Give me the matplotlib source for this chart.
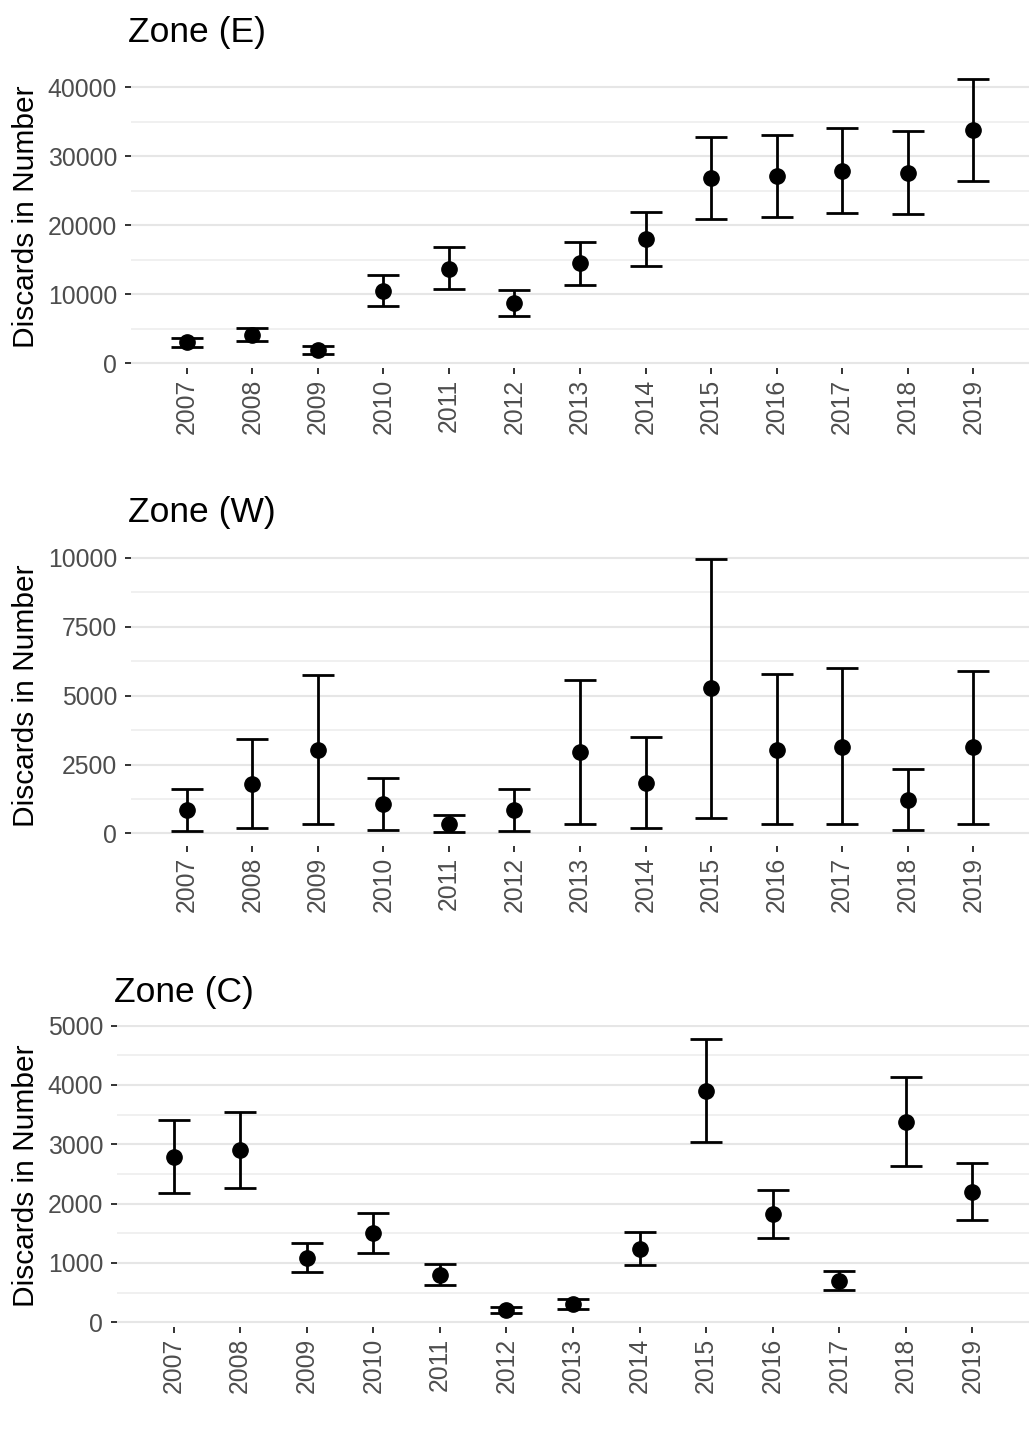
import matplotlib
matplotlib.use('Agg')
import matplotlib.pyplot as plt
from matplotlib.ticker import MultipleLocator

plt.rcParams['font.family'] = ['Liberation Sans', 'DejaVu Sans']

years = ['2007', '2008', '2009', '2010', '2011', '2012', '2013',
         '2014', '2015', '2016', '2017', '2018', '2019']

# Zone (E)
east_mean = [3000, 4060, 1880, 10400, 13700, 8740, 14450, 17970, 26800, 27100, 27900, 27600, 33800]
east_low = [2360, 3200, 1300, 8260, 10800, 6860, 11300, 14100, 20900, 21200, 21800, 21600, 26400]
east_high = [3720, 5100, 2560, 12750, 16800, 10600, 17600, 21900, 32700, 33100, 34100, 33700, 41200]

# Zone (W)
west_mean = [850, 1790, 3020, 1050, 360, 850, 2940, 1820, 5260, 3030, 3140, 1220, 3120]
west_low = [100, 200, 330, 120, 40, 100, 330, 200, 570, 350, 350, 130, 350]
west_high = [1600, 3420, 5740, 2020, 670, 1630, 5570, 3500, 9970, 5770, 6000, 2320, 5900]

# Zone (C)
central_mean = [2790, 2900, 1080, 1500, 790, 200, 310, 1230, 3900, 1820, 690, 3370, 2190]
central_low = [2180, 2270, 840, 1170, 620, 150, 220, 970, 3030, 1420, 540, 2640, 1720]
central_high = [3410, 3550, 1330, 1840, 980, 250, 390, 1520, 4780, 2230, 860, 4130, 2690]

W, H = 1032, 1437
fig = plt.figure(figsize=(W / 100, H / 100), dpi=100)

# (title, mean, low, high, major step, minor step, left, top, bottom) in pixels
panels = [
    ('Zone (E)', east_mean, east_low, east_high, 10000, 5000, 131, 65, 368),
    ('Zone (W)', west_mean, west_low, west_high, 2500, 1250, 131, 545, 846),
    ('Zone (C)', central_mean, central_low, central_high, 1000, 500, 117, 1025, 1327),
]
right = 1029

for title, mean, low, high, major, minor, left, top, bottom in panels:
    ax = fig.add_axes([left / W, 1 - bottom / H, (right - left) / W, (bottom - top) / H])
    x = list(range(len(years)))
    yerr = [[m - l for m, l in zip(mean, low)], [h - m for h, m in zip(high, mean)]]
    ax.errorbar(x, mean, yerr=yerr, fmt='o', color='black', ms=11,
                elinewidth=2.0, capsize=11.5, capthick=2.0, zorder=3)

    lo, hi = min(low), max(high)
    pad = 0.05 * (hi - lo)
    ax.set_ylim(lo - pad, hi + pad)
    ax.set_xlim(-0.85, len(years) - 1 + 0.85)

    ax.set_xticks(x)
    ax.set_xticklabels(years, rotation=90)
    ax.yaxis.set_major_locator(MultipleLocator(major))
    ax.yaxis.set_minor_locator(MultipleLocator(minor))
    ax.grid(axis='y', which='major', color='#E6E6E6', lw=1.5, zorder=0)
    ax.grid(axis='y', which='minor', color='#ECECEC', lw=1.1, zorder=0)
    ax.set_axisbelow(True)
    for s in ax.spines.values():
        s.set_visible(False)
    ax.tick_params(axis='both', which='major', length=4, width=1.4,
                   color='#333333', labelcolor='#4D4D4D', labelsize=17.8)
    ax.tick_params(axis='y', which='major', pad=6)
    ax.tick_params(axis='x', which='major', pad=4)
    ax.tick_params(axis='y', which='minor', length=0)

    fig.text((left - 3) / W, 1 - (top - 23) / H, title, fontsize=25.5,
             color='black', ha='left', va='baseline')
    fig.text(26 / W, 1 - ((top + bottom) / 2) / H, 'Discards in Number',
             fontsize=21.5, color='black', rotation=90, ha='center', va='center')

fig.savefig('out.png', dpi=100, facecolor='white')
